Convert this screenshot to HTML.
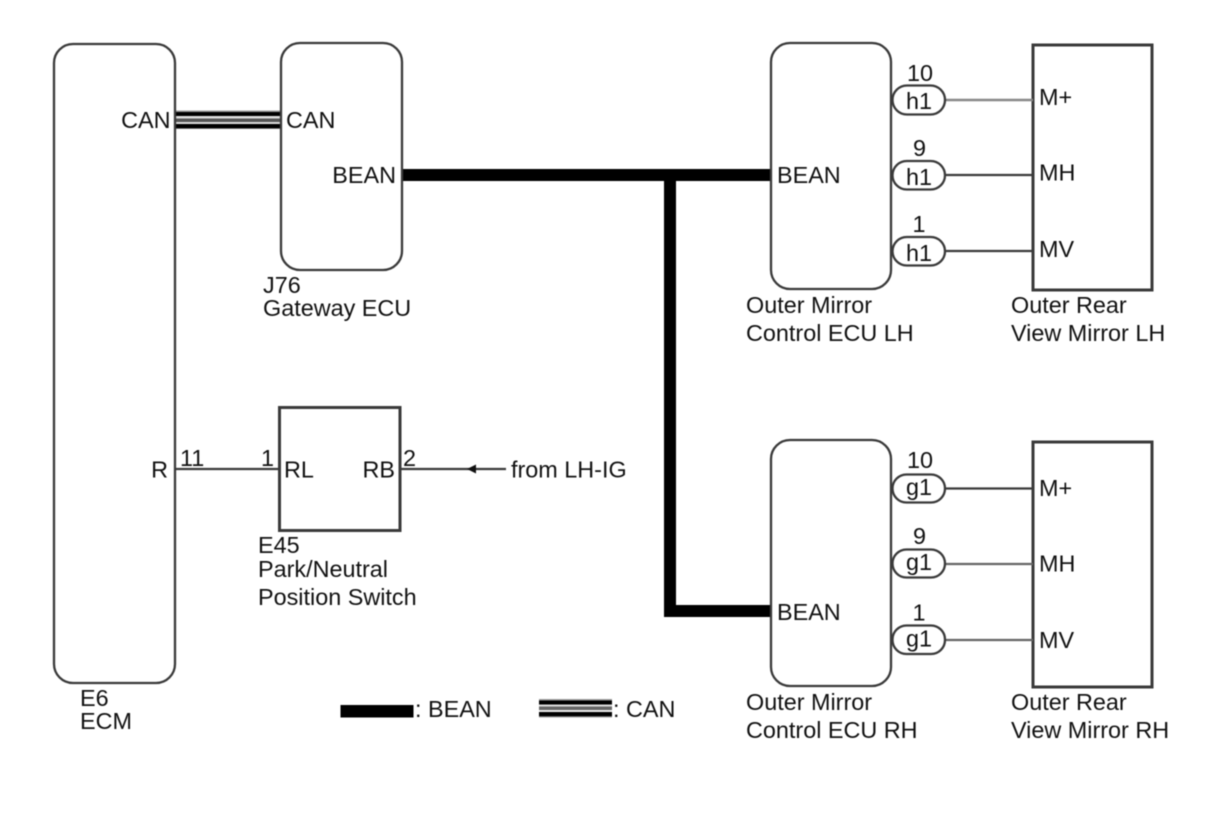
<!DOCTYPE html>
<html><head><meta charset="utf-8"><style>
html,body{margin:0;padding:0;background:#fff;width:1210px;height:814px;overflow:hidden}
svg{display:block;filter:blur(0.5px)}
text{font-family:"Liberation Sans",sans-serif;font-size:23.4px;fill:#111}
.e{text-anchor:end}.m{text-anchor:middle}
.b{fill:#fff;stroke:#3a3a3a;stroke-width:2.3}
.s{stroke-width:3}
.w{stroke:#3a3a3a;stroke-width:2.2;fill:none}
</style></head><body>
<svg width="1210" height="814" viewBox="0 0 1210 814" xmlns="http://www.w3.org/2000/svg">
<rect width="1210" height="814" fill="#fff"/>
<!-- CAN -->
<rect x="175" y="110.500" width="106" height="18.500" fill="#999"/>
<rect x="175" y="112" width="106" height="4" fill="#000"/>
<rect x="175" y="116" width="106" height="2.500" fill="#ddd"/>
<rect x="175" y="118.500" width="106" height="3.500" fill="#555"/>
<rect x="175" y="122" width="106" height="2" fill="#ddd"/>
<rect x="175" y="124" width="106" height="4.300" fill="#000"/>
<!-- BEAN -->
<path d="M402 175H770M670 175V611H770" fill="none" stroke="#000" stroke-width="12"/>
<!-- boxes -->
<rect class="b" x="54" y="44" width="121" height="639" rx="19"/>
<rect class="b" x="281" y="43" width="121" height="227" rx="19"/>
<rect class="b" x="771" y="43" width="120" height="246" rx="19"/>
<rect class="b" x="771" y="440" width="120" height="246" rx="19"/>
<rect class="b s" x="1033" y="45" width="119" height="245"/>
<rect class="b s" x="1033" y="442" width="119" height="245"/>
<rect class="b s" x="279.500" y="407.500" width="120.500" height="123"/>
<!-- wires -->
<path class="w" d="M175 469H279M400 469H506"/>
<path d="M467 469L476 464.500V473.500Z" fill="#111"/>
<path d="M945 100H1033" stroke="#888" stroke-width="2.400"/>
<path class="w" d="M945 175H1033M945 251H1033M945 488.500H1033"/>
<path d="M945 564H1033M945 640H1033" stroke="#666" stroke-width="2.300"/>
<!-- pills -->
<rect class="b" x="892.500" y="85.500" width="52.500" height="29" rx="14.500"/>
<rect class="b" x="892.500" y="161" width="52.500" height="28.500" rx="14.300"/>
<rect class="b" x="892.500" y="237" width="52.500" height="28.500" rx="14.300"/>
<rect class="b" x="892.500" y="474.500" width="52.500" height="28" rx="14"/>
<rect class="b" x="892.500" y="549.500" width="52.500" height="28" rx="14"/>
<rect class="b" x="892.500" y="625.500" width="52.500" height="28.500" rx="14"/>
<!-- legend -->
<rect x="340.500" y="705" width="73" height="12.500" fill="#000"/>
<rect x="539" y="699" width="73" height="18.500" fill="#999"/>
<rect x="539" y="700.500" width="73" height="4" fill="#000"/>
<rect x="539" y="704.500" width="73" height="2" fill="#ddd"/>
<rect x="539" y="706.500" width="73" height="3.500" fill="#666"/>
<rect x="539" y="710" width="73" height="2" fill="#eee"/>
<rect x="539" y="712" width="73" height="4.300" fill="#000"/>
<!-- text -->
<text class="e" x="170.500" y="128">CAN</text>
<text x="286" y="128">CAN</text>
<text class="e" x="396" y="183">BEAN</text>
<text x="263" y="293">J76</text>
<text x="263" y="316">Gateway ECU</text>
<text x="777" y="183">BEAN</text>
<text x="746" y="313">Outer Mirror</text>
<text x="746" y="341">Control ECU LH</text>
<text x="1011" y="313">Outer Rear</text>
<text x="1011" y="341">View Mirror LH</text>
<text class="m" x="920" y="81">10</text>
<text class="m" x="919.500" y="156">9</text>
<text class="m" x="919" y="232">1</text>
<text class="m" x="919" y="109">h1</text>
<text class="m" x="919" y="185">h1</text>
<text class="m" x="919" y="261">h1</text>
<text x="1039" y="105">M+</text>
<text x="1039" y="180.500">MH</text>
<text x="1039" y="257">MV</text>
<text x="777" y="620">BEAN</text>
<text x="746" y="710">Outer Mirror</text>
<text x="746" y="738">Control ECU RH</text>
<text x="1011" y="710">Outer Rear</text>
<text x="1011" y="738">View Mirror RH</text>
<text class="m" x="920" y="468">10</text>
<text class="m" x="919.500" y="544">9</text>
<text class="m" x="919" y="620.500">1</text>
<text class="m" x="919" y="495">g1</text>
<text class="m" x="919" y="570">g1</text>
<text class="m" x="919" y="646.500">g1</text>
<text x="1039" y="496">M+</text>
<text x="1039" y="571.500">MH</text>
<text x="1039" y="648">MV</text>
<text class="e" x="168" y="477.500">R</text>
<text x="180" y="466">11</text>
<text x="261" y="466">1</text>
<text x="284" y="477.500">RL</text>
<text class="e" x="395" y="477.500">RB</text>
<text x="403" y="466">2</text>
<text x="511" y="477.500">from LH-IG</text>
<text x="258" y="553">E45</text>
<text x="258" y="577">Park/Neutral</text>
<text x="258" y="605">Position Switch</text>
<text x="80" y="706">E6</text>
<text x="80" y="729">ECM</text>
<text x="415" y="717">: BEAN</text>
<text x="613" y="717">: CAN</text>
</svg>
</body></html>
